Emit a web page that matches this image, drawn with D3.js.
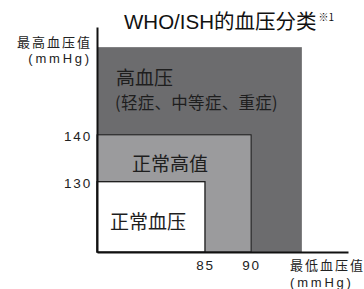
<!DOCTYPE html>
<html><head><meta charset="utf-8">
<script src="https://cdn.jsdelivr.net/npm/d3@7"></script>
<style>
html,body{margin:0;padding:0;background:#fff;}
svg{display:block;font-family:"Noto Sans CJK SC","Liberation Sans",sans-serif;}
</style></head>
<body><svg id="c" width="364" height="289"></svg>
<script>
const categories = ["正常血压", "正常高值", "高血压"];
const subLabels = ["", "", "(轻症、中等症、重症)"];
const sbpUpper = [130, 140, 158.7];
const dbpUpper = [85, 90, 95.5];
const fills = ["#ffffff", "#9b9b9d", "#6c6c6e"];
const xTicks = [85, 90];
const yTicks = [130, 140];
const title = "WHO/ISH的血压分类";

const svg = d3.select("#c");
const x = d3.scaleLinear().domain([73.3, 100.5]).range([97, 348]);
const y = d3.scaleLinear().domain([115, 163]).range([252, 27]);

// regions, drawn largest first
const idx = [2, 1, 0];
svg.selectAll("rect.r").data(idx).enter().append("rect")
  .attr("x", x(73.3))
  .attr("y", i => y(sbpUpper[i]))
  .attr("width", i => x(dbpUpper[i]) - x(73.3))
  .attr("height", i => y(115) - y(sbpUpper[i]))
  .attr("fill", i => fills[i])
  .attr("stroke", i => i === 2 ? "none" : "#1a1a1a")
  .attr("stroke-width", i => i === 0 ? 1.3 : 1);

// axes
const gx = svg.append("g").attr("transform", `translate(0,${y(115)})`)
  .call(d3.axisBottom(x).tickValues(xTicks).tickSize(0).tickPadding(8));
gx.select(".domain").attr("stroke", "#111").attr("stroke-width", 2);
gx.selectAll("text").attr("font-size", 13.5).attr("fill", "#222")
  .attr("font-family", "'Liberation Sans',sans-serif").attr("letter-spacing", 1.8);

const gy = svg.append("g").attr("transform", `translate(${x(73.3)},0)`)
  .call(d3.axisLeft(y).tickValues(yTicks).tickSize(0).tickPadding(5));
gy.select(".domain").attr("stroke", "#111").attr("stroke-width", 2);
gy.selectAll("text").attr("font-size", 13.5).attr("fill", "#222").attr("dy", "0.45em")
  .attr("font-family", "'Liberation Sans',sans-serif").attr("letter-spacing", 1.8);

// category labels
const labPos = [[110, 229], [132, 171], [116, 84.5]];
categories.forEach((c, i) => {
  svg.append("text").attr("x", labPos[i][0]).attr("y", labPos[i][1])
    .attr("font-size", 19).attr("fill", "#1e1e1e").text(c);
  if (subLabels[i]) {
    svg.append("text").attr("x", labPos[i][0] - 1).attr("y", labPos[i][1] + 24.5)
      .attr("font-size", 16.5).attr("letter-spacing", 0.3).attr("fill", "#1e1e1e").text(subLabels[i]);
  }
});

// title
const t = svg.append("text").attr("x", 124).attr("y", 29).attr("font-size", 20.5).attr("fill", "#111");
t.append("tspan").attr("font-family", "'Liberation Sans',sans-serif").text("WHO/ISH");
t.append("tspan").text("的血压分类");
t.append("tspan").attr("font-size", 10).attr("dy", -8).attr("dx", 2).text("※1");

// axis titles
svg.append("text").attr("x", 92).attr("y", 47).attr("text-anchor", "end")
  .attr("font-size", 13).attr("fill", "#222").attr("letter-spacing", 2).text("最高血压值");
svg.append("text").attr("x", 92).attr("y", 63).attr("text-anchor", "end")
  .attr("font-size", 13).attr("fill", "#222").attr("letter-spacing", 2.8)
  .attr("font-family", "'Liberation Sans',sans-serif").text("(mmHg)");
svg.append("text").attr("x", 290).attr("y", 270)
  .attr("font-size", 13).attr("fill", "#222").attr("letter-spacing", 2).text("最低血压值");
svg.append("text").attr("x", 290).attr("y", 287)
  .attr("font-size", 13).attr("fill", "#222").attr("letter-spacing", 2.8)
  .attr("font-family", "'Liberation Sans',sans-serif").text("(mmHg)");
</script></body></html>
